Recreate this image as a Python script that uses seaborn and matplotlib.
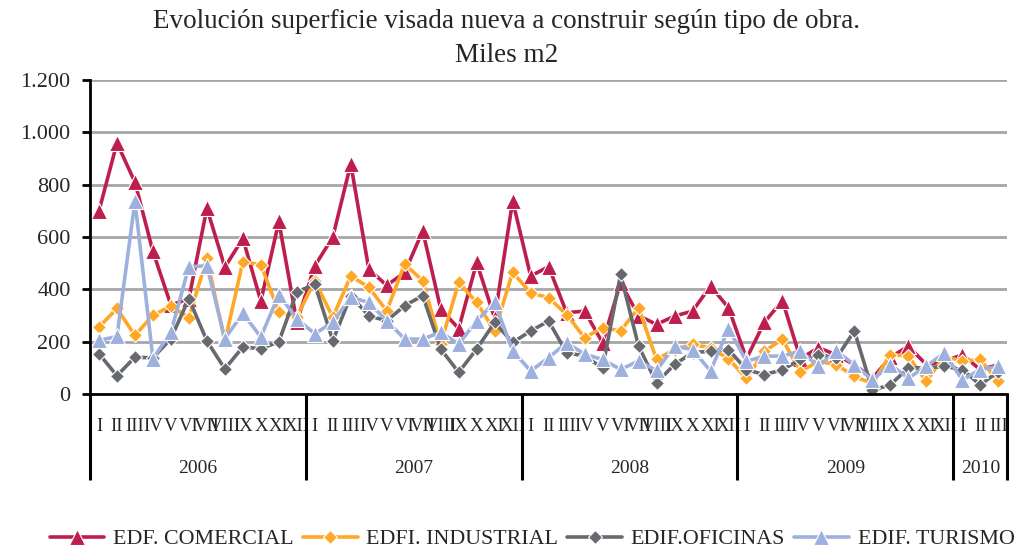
import numpy as np
import pandas as pd
import matplotlib.pyplot as plt
import matplotlib.transforms as mtransforms
from matplotlib.ticker import FuncFormatter
import seaborn as sns

# Monthly values, Jan 2006 - Mar 2010 (miles m2)
comercial = [700, 960, 810, 545, 340, 365, 710, 485, 595, 355, 660, 275,
             490, 600, 880, 478, 415, 465, 624, 325, 250, 503, 290, 739,
             451, 487, 311, 317, 196, 425, 300, 266, 298, 317, 413, 330,
             135, 275, 357, 135, 177, 150, 112, 60, 140, 183, 112, 125,
             150, 93, 112]
industrial = [256, 327, 224, 301, 336, 292, 519, 200, 506, 494, 314, 295,
              433, 293, 452, 408, 318, 497, 433, 191, 427, 350, 242, 465,
              387, 368, 304, 215, 254, 241, 330, 132, 170, 190, 177, 135,
              60, 164, 209, 86, 125, 112, 67, 40, 151, 145, 48, 145,
              125, 132, 48]
oficinas = [154, 70, 141, 138, 212, 365, 203, 96, 180, 173, 200, 390,
            420, 204, 376, 299, 280, 338, 376, 172, 83, 172, 274, 197,
            241, 279, 158, 145, 100, 457, 183, 43, 113, 158, 164, 170,
            93, 74, 93, 132, 151, 138, 241, 15, 35, 100, 100, 106,
            93, 35, 86]
turismo = [205, 220, 737, 135, 237, 487, 490, 212, 308, 218, 380, 288,
           230, 275, 370, 350, 280, 210, 210, 236, 191, 280, 350, 166,
           88, 139, 196, 152, 132, 94, 126, 90, 183, 170, 88, 250,
           125, 145, 145, 164, 106, 164, 112, 54, 112, 61, 106, 157,
           54, 93, 106]

series_names = ["EDF. COMERCIAL", "EDFI. INDUSTRIAL", "EDIF.OFICINAS", "EDIF. TURISMO"]
months = ["I", "II", "III", "IV", "V", "VI", "VII", "VIII", "IX", "X", "XI", "XII"]
years = ["2006", "2007", "2008", "2009", "2010"]
months_per_year = [12, 12, 12, 12, 3]

month_labels = []
for n in months_per_year:
    month_labels += months[:n]
n_points = len(month_labels)

df = pd.DataFrame({
    "idx": np.tile(np.arange(n_points), 4),
    "valor": comercial + industrial + oficinas + turismo,
    "serie": np.repeat(series_names, n_points),
})

colors = {"EDF. COMERCIAL": "#BE1E4D", "EDFI. INDUSTRIAL": "#FFA726",
          "EDIF.OFICINAS": "#666A6F", "EDIF. TURISMO": "#9DB0DE"}
markers = {"EDF. COMERCIAL": "^", "EDFI. INDUSTRIAL": "D",
           "EDIF.OFICINAS": "D", "EDIF. TURISMO": "^"}

sns.set_style("white")
plt.rcParams['font.family'] = ['Liberation Serif', 'DejaVu Serif']

fig = plt.figure(figsize=(10.33, 5.53), dpi=100)
ax = fig.add_axes([0.0871, 0.2875, 0.888, 0.5675])

sns.lineplot(data=df, x="idx", y="valor", hue="serie", style="serie",
             palette=colors, markers=markers, dashes=False, linewidth=2.6,
             markersize=9, markeredgewidth=0.8, ax=ax)
# triangles a bit larger than the diamonds
for line in ax.lines:
    if line.get_marker() == "^":
        line.set_markersize(11)
    else:
        line.set_markersize(7.5)

ax.set_xlim(-0.5, n_points - 0.5)
ax.set_ylim(0, 1200)
ax.set_yticks(np.arange(0, 1201, 200))
ax.yaxis.set_major_formatter(FuncFormatter(lambda v, p: f"{int(v):,}".replace(",", ".")))
ax.grid(axis="y", color="#A6A6A6", linewidth=2)
ax.set_axisbelow(True)
ax.set_xlabel("")
ax.set_ylabel("")

for s in ["top", "right"]:
    ax.spines[s].set_visible(False)
for s in ["left", "bottom"]:
    ax.spines[s].set_color("black")
    ax.spines[s].set_linewidth(2)

ax.tick_params(axis="y", left=True, length=6, width=2, color="black",
               labelsize=16, pad=8)
ax.set_xticks(np.arange(n_points))
ax.set_xticklabels(month_labels)
ax.tick_params(axis="x", bottom=False, length=0, labelsize=13.5, pad=17)

# year bands below the axis
trans = mtransforms.blended_transform_factory(ax.transData, ax.transAxes)
bounds = np.concatenate([[0], np.cumsum(months_per_year)]) - 0.5
ax.vlines(bounds, -0.274, 0, transform=trans, colors="black",
          linewidth=2.2, clip_on=False)
for i, y in enumerate(years):
    xc = (bounds[i] + bounds[i + 1]) / 2
    ax.text(xc, -0.236, y, transform=trans, ha="center", va="center",
            fontsize=14)

fig.text(0.49, 0.962, "Evolución superficie visada nueva a construir según tipo de obra.",
         ha="center", va="center", fontsize=19.5)
fig.text(0.49, 0.9, "Miles m2", ha="center", va="center", fontsize=19.5)

handles, labels = ax.get_legend_handles_labels()
ax.legend(handles, labels, loc="center", bbox_to_anchor=(0.515, 0.025),
          bbox_transform=fig.transFigure, ncol=4, frameon=False,
          fontsize=15.8, handlelength=2.5, columnspacing=0.4, handletextpad=0.4)

fig.savefig("out.png", dpi=100)
